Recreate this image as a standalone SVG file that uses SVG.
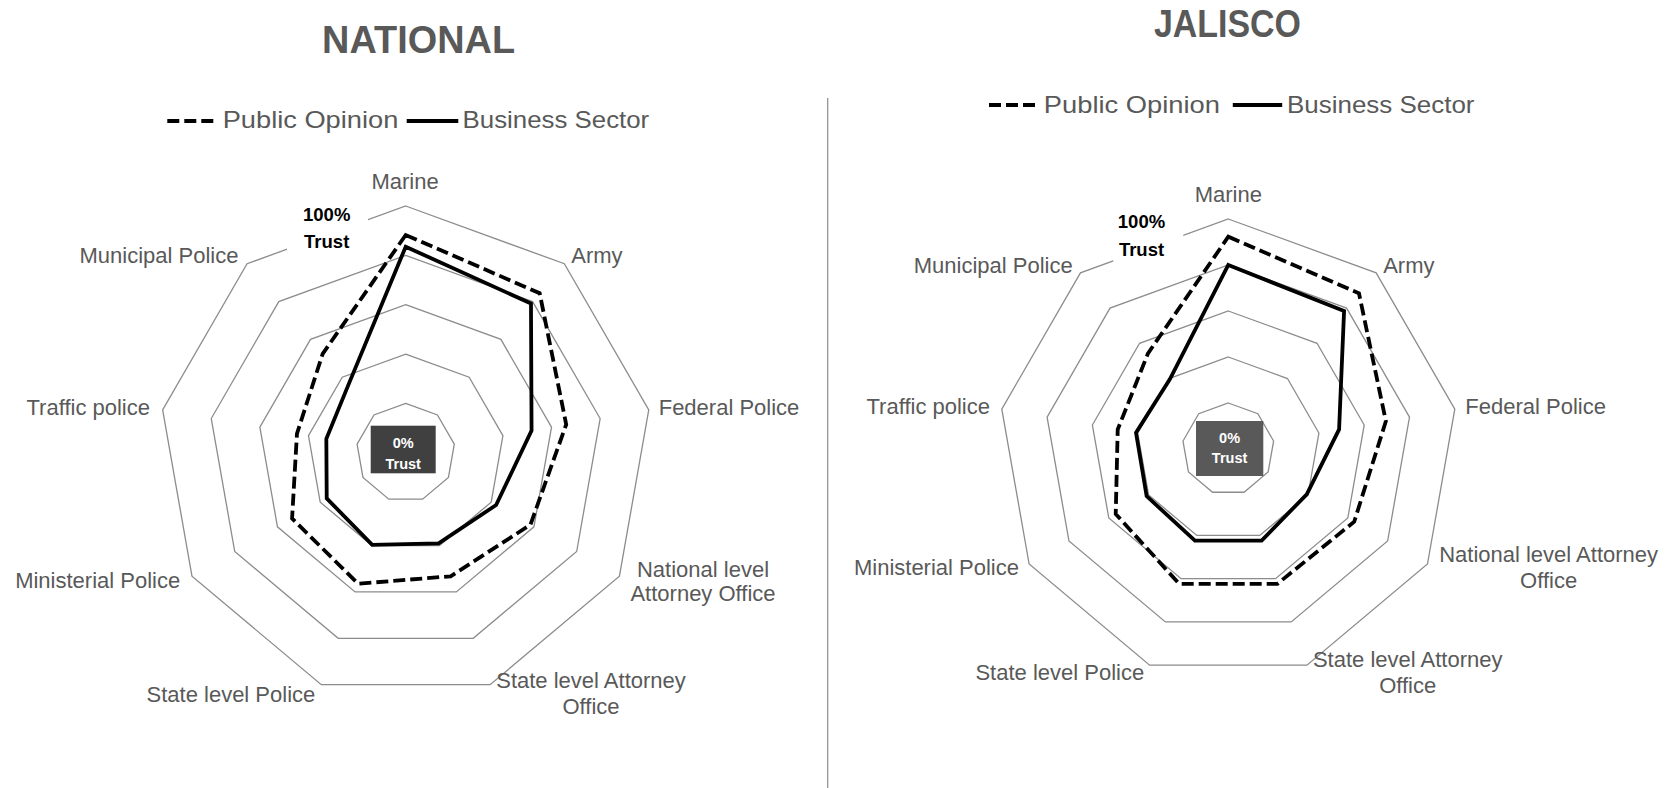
<svg xmlns="http://www.w3.org/2000/svg" width="1671" height="788" viewBox="0 0 1671 788">
<style>
.title{font-family:"Liberation Sans",Arial,sans-serif;font-weight:bold;font-size:38px;fill:#595959;text-anchor:middle}
.leg{font-family:"Liberation Sans",Arial,sans-serif;font-size:24px;fill:#595959}
.cat{font-family:"Liberation Sans",Arial,sans-serif;font-size:22px;fill:#595959}
.mid{text-anchor:middle}
.end{text-anchor:end}
.hund{font-family:"Liberation Sans",Arial,sans-serif;font-weight:bold;font-size:18.5px;fill:#000;text-anchor:middle}
.zero{font-family:"Liberation Sans",Arial,sans-serif;font-weight:bold;font-size:14.5px;fill:#fff;text-anchor:middle}
.ring{fill:none;stroke:#8c8c8c;stroke-width:1.3}
.pub{fill:none;stroke:#000;stroke-width:3.8;stroke-dasharray:12 5;stroke-linejoin:miter}
.bus{fill:none;stroke:#000;stroke-width:3.8;stroke-linejoin:miter}
.divider{stroke:#8c8c8c;stroke-width:1.2}
</style>

<line class="divider" x1="827.7" y1="98" x2="827.7" y2="788"/>

<!-- NATIONAL -->
<g id="national">
  <text class="title" x="418.6" y="52.7" textLength="193" lengthAdjust="spacingAndGlyphs">NATIONAL</text>
  <g id="national-legend">
    <line class="pub" x1="167.3" y1="121" x2="213.3" y2="121"/>
    <text class="leg" x="222.7" y="127.5" textLength="175.6" lengthAdjust="spacingAndGlyphs">Public Opinion</text>
    <line class="bus" x1="406.7" y1="121" x2="458.3" y2="121"/>
    <text class="leg" x="462.6" y="127.5" textLength="186.6" lengthAdjust="spacingAndGlyphs">Business Sector</text>
  </g>
  <g id="national-grid">
    <polygon class="ring" points="405.7,403.44 437.43,414.99 454.31,444.23 448.45,477.48 422.58,499.18 388.82,499.18 362.95,477.48 357.09,444.23 373.97,414.99"/>
    <polygon class="ring" points="405.7,354.08 469.16,377.18 502.92,435.66 491.19,502.16 439.46,545.57 371.94,545.57 320.21,502.16 308.48,435.66 342.24,377.18"/>
    <polygon class="ring" points="405.7,304.72 500.89,339.37 551.53,427.09 533.94,526.84 456.34,591.95 355.06,591.95 277.46,526.84 259.87,427.09 310.51,339.37"/>
    <polygon class="ring" points="405.7,255.36 532.62,301.56 600.14,418.52 576.68,551.52 473.22,638.33 338.18,638.33 234.72,551.52 211.26,418.52 278.78,301.56"/>
    <polygon class="ring" points="405.7,206 564.34,263.75 648.75,409.96 619.43,576.2 490.11,684.72 321.29,684.72 191.97,576.2 162.65,409.96 247.06,263.75"/>
  </g>
  <g id="national-max-label">
    <rect x="287" y="198" width="81" height="58" fill="#fff"/>
    <text class="hund" x="326.7" y="220.7">100%</text>
    <text class="hund" x="326.7" y="248.3">Trust</text>
  </g>
  <g id="national-zero-label">
    <rect x="370.7" y="425.7" width="65" height="47.6" fill="#404040"/>
    <text class="zero" x="403.2" y="448.3">0%</text>
    <text class="zero" x="403.2" y="469">Trust</text>
  </g>
  <g id="national-categories">
    <text class="cat mid" x="405" y="189">Marine</text>
    <text class="cat" x="571.3" y="263.3">Army</text>
    <text class="cat" x="658.7" y="415">Federal Police</text>
    <text class="cat mid" x="703" y="576.7">National level</text>
    <text class="cat mid" x="703" y="601">Attorney Office</text>
    <text class="cat mid" x="591" y="687.7">State level Attorney</text>
    <text class="cat mid" x="591" y="714">Office</text>
    <text class="cat end" x="315.3" y="701.7">State level Police</text>
    <text class="cat end" x="180.2" y="587.7">Ministerial Police</text>
    <text class="cat end" x="150" y="415">Traffic police</text>
    <text class="cat end" x="238.5" y="263.3">Municipal Police</text>
  </g>
  <g id="national-series">
    <polygon class="pub" points="405.7,235 539.66,293.17 566.22,424.5 530.4,524.8 450.64,576.28 358.06,583.7 292.08,518.4 296.98,433.63 322.65,353.83"/>
    <polygon class="bus" points="405.7,246.7 530.98,303.51 531.56,430.61 496.11,505 438.63,543.29 372.22,544.8 326.72,498.4 326.33,438.81 348.49,384.63"/>
  </g>
</g>

<!-- JALISCO -->
<g id="jalisco">
  <text class="title" x="1227.4" y="36.7" textLength="147" lengthAdjust="spacingAndGlyphs">JALISCO</text>
  <g id="jalisco-legend">
    <line class="pub" x1="989" y1="105" x2="1035" y2="105"/>
    <text class="leg" x="1043.8" y="112.5" textLength="176.1" lengthAdjust="spacingAndGlyphs">Public Opinion</text>
    <line class="bus" x1="1232.8" y1="105" x2="1282.2" y2="105"/>
    <text class="leg" x="1287" y="112.5" textLength="187.5" lengthAdjust="spacingAndGlyphs">Business Sector</text>
  </g>
  <g id="jalisco-grid">
    <polygon class="ring" points="1228.3,403 1257.87,413.76 1273.6,441.01 1268.14,472 1244.03,492.23 1212.57,492.23 1188.46,472 1183,441.01 1198.73,413.76"/>
    <polygon class="ring" points="1228.3,357 1287.44,378.53 1318.9,433.03 1307.97,495 1259.76,535.45 1196.84,535.45 1148.63,495 1137.7,433.03 1169.16,378.53"/>
    <polygon class="ring" points="1228.3,311 1317.01,343.29 1364.2,425.04 1347.81,518 1275.5,578.68 1181.1,578.68 1108.79,518 1092.4,425.04 1139.59,343.29"/>
    <polygon class="ring" points="1228.3,265 1346.58,308.06 1409.5,417.06 1387.64,541 1291.23,621.9 1165.37,621.9 1068.96,541 1047.1,417.06 1110.02,308.06"/>
    <polygon class="ring" points="1228.3,219 1376.14,272.82 1454.8,409.07 1427.48,564 1306.96,665.13 1149.64,665.13 1029.12,564 1001.8,409.07 1080.46,272.82"/>
  </g>
  <g id="jalisco-max-label">
    <rect x="1113.3" y="205" width="70" height="59" fill="#fff"/>
    <text class="hund" x="1141.5" y="227.7">100%</text>
    <text class="hund" x="1141.5" y="255.7">Trust</text>
  </g>
  <g id="jalisco-zero-label">
    <rect x="1196" y="421" width="67.3" height="55" fill="#595959"/>
    <text class="zero" x="1229.6" y="443.3">0%</text>
    <text class="zero" x="1229.6" y="462.7">Trust</text>
  </g>
  <g id="jalisco-categories">
    <text class="cat mid" x="1228.3" y="202.3">Marine</text>
    <text class="cat" x="1383.2" y="272.7">Army</text>
    <text class="cat" x="1465.3" y="414">Federal Police</text>
    <text class="cat mid" x="1548.6" y="561.7">National level Attorney</text>
    <text class="cat mid" x="1548.6" y="588.3">Office</text>
    <text class="cat mid" x="1407.7" y="667.3">State level Attorney</text>
    <text class="cat mid" x="1407.7" y="692.7">Office</text>
    <text class="cat end" x="1144.2" y="680">State level Police</text>
    <text class="cat end" x="1019" y="575">Ministerial Police</text>
    <text class="cat end" x="990" y="414">Traffic police</text>
    <text class="cat end" x="1072.7" y="272.7">Municipal Police</text>
  </g>
  <g id="jalisco-series">
    <polygon class="pub" points="1228.3,236.7 1358.98,293.27 1385.87,421.22 1354.22,521.7 1277.38,583.85 1179.22,583.85 1115.72,514 1117.71,429.5 1148.01,353.33"/>
    <polygon class="bus" points="1228.3,265 1344.07,311.04 1339.09,429.47 1306.76,494.3 1261.65,540.62 1194.95,540.62 1146.64,496.15 1136.02,432.73 1169.81,379.29"/>
  </g>
</g>
</svg>
